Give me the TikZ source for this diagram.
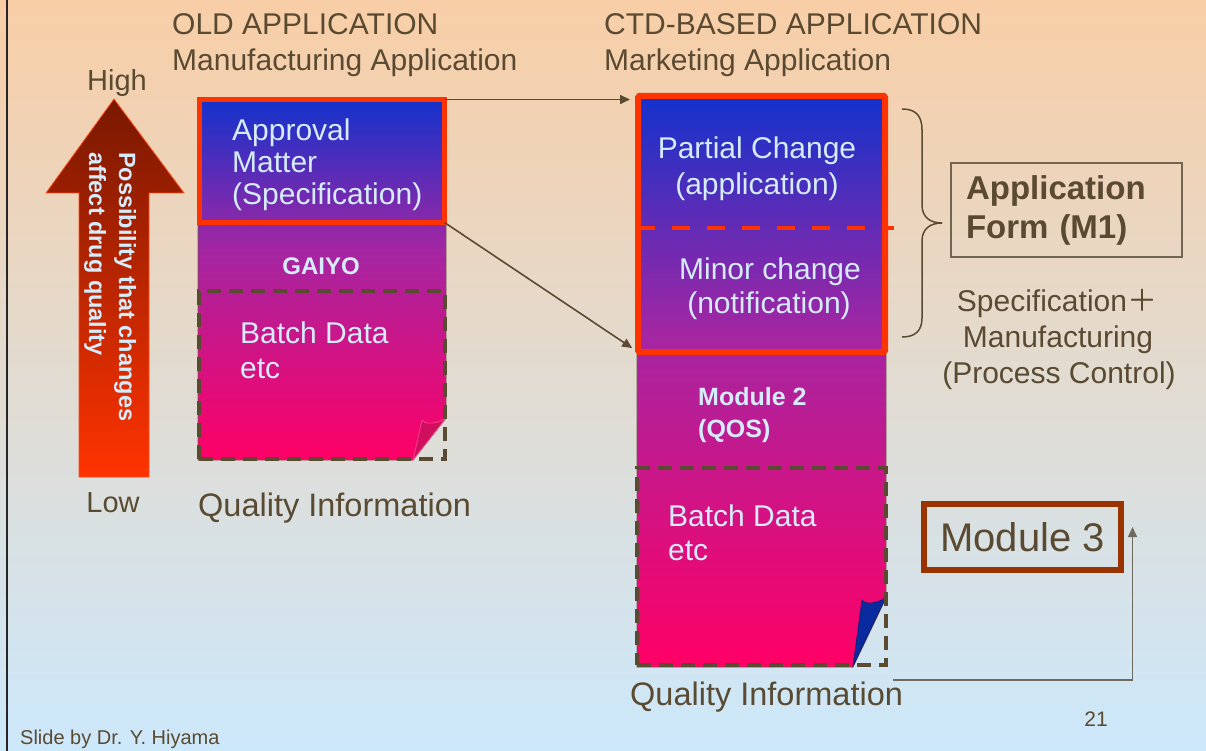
\documentclass[tikz,border=0pt]{standalone}
\usepackage{fontspec}
\setmainfont{Liberation Sans}
\newfontfamily\cjkfont{Noto Sans CJK JP}
\usetikzlibrary{arrows.meta}
\definecolor{bgtop}{HTML}{F8CEA6}
\definecolor{bgmid}{HTML}{E2DDD6}
\definecolor{bgbot}{HTML}{CCE8FB}
\definecolor{ink}{HTML}{5A4A32}
\definecolor{lite}{HTML}{D4ECFB}
\definecolor{arrtop}{HTML}{781800}
\definecolor{arrbot}{HTML}{FF3300}
\definecolor{arredge}{HTML}{FF4A1A}
\definecolor{pgtop}{HTML}{1232CC}
\definecolor{pgmid}{HTML}{A426A2}
\definecolor{pgbot}{HTML}{FF0066}
\definecolor{redc}{HTML}{FF3300}
\definecolor{curlp}{HTML}{D0105E}
\definecolor{curlb}{HTML}{0A2AA0}
\definecolor{mthree}{HTML}{993300}
\definecolor{connb}{HTML}{5A4A32}
\definecolor{conng}{HTML}{6E6A5E}
\pgfdeclareverticalshading{pagegrad}{100bp}{color(0bp)=(pgbot); color(25bp)=(pgbot); color(54bp)=(pgmid); color(75bp)=(pgtop); color(100bp)=(pgtop)}
\newcommand\myfs[1]{\fontsize{#1}{#1}\selectfont}
\begin{document}
\begin{tikzpicture}[x=1pt,y=-1pt,
  dark/.style={inner sep=0pt, text=ink},
  light/.style={inner sep=0pt, text=lite},
  pageshade/.style={shading=pagegrad, draw=ink!90, line width=0.8pt},
  redbox/.style={draw=redc, inner sep=0pt, outer sep=0pt, anchor=north west},
  databox/.style={draw=ink, line width=4pt, dash pattern=on 14pt off 8pt, inner sep=0pt, outer sep=0pt, anchor=north west},
  conn/.style={draw=connb, line width=1.6pt, -{Triangle[length=10pt,width=9pt]}},
  conn2/.style={draw=conng, line width=1.5pt, -{Triangle[length=10pt,width=9pt]}}]
\shade[top color=bgtop, middle color=bgmid, bottom color=bgbot] (0,0) rectangle (1206,751);
\useasboundingbox (0,0) rectangle (1206,751);
\draw[line width=2pt, black!85] (7,0) -- (7,751);

% big arrow
\shadedraw[top color=arrtop, bottom color=arrbot, draw=arredge, line width=0.8pt]
  (114,99) -- (184,193) -- (149,193) -- (149,477) -- (79,477) -- (79,193) -- (46,193) -- cycle;
\node[light, rotate=-90, anchor=base west, font=\bfseries\myfs{23.5}] (poss1) at (119,152) {Possibility that changes};
\node[light, rotate=-90, anchor=base west, font=\bfseries\myfs{23.5}] (poss2) at (89,152) {affect drug quality};
\node[dark, anchor=base, font=\myfs{29}] (high) at (117,91) {High};
\node[dark, anchor=base, font=\myfs{29}] (low) at (113,512) {Low};

% titles
\node[dark, anchor=base west, font=\myfs{30}] (old1) at (172,35) {OLD APPLICATION};
\node[dark, anchor=base west, font=\myfs{30}] (old2) at (172,71) {Manufacturing Application};
\node[dark, anchor=base west, font=\myfs{30}] (ctd1) at (604,35) {CTD-BASED APPLICATION};
\node[dark, anchor=base west, font=\myfs{30}] (ctd2) at (604,71) {Marketing Application};

% old page
\shadedraw[pageshade] (198,98) -- (446,98) -- (446,418) -- (413,460) -- (198,460) -- cycle;
\filldraw[fill=curlp, draw=pgbot!70!white, line width=0.6pt]
  (413,460) -- (422,420) .. controls (425,425) and (437,424) .. (446,418) -- cycle;
\node[redbox, line width=5pt, minimum width=245pt, minimum height=123pt] (spec) at (199.5,99.5) {};
\node[databox, minimum width=246pt, minimum height=168pt] (olddata) at (199,291) {};
\node[light, anchor=base west, font=\myfs{30}] (appr1) at (232,141) {Approval};
\node[light, anchor=base west, font=\myfs{30}] (appr2) at (232,173) {Matter};
\node[light, anchor=base west, font=\myfs{30}] (appr3) at (232,205) {(Specification)};
\node[light, anchor=base, font=\bfseries\myfs{24}] (gaiyo) at (321,274) {GAIYO};
\node[light, anchor=base west, font=\myfs{30}] (bd1) at (240,343) {Batch Data};
\node[light, anchor=base west, font=\myfs{30}] (bd2) at (240,378) {etc};
\node[dark, anchor=base west, font=\myfs{32.5}] (qil) at (198,516) {Quality Information};

% CTD page
\shadedraw[pageshade] (637,94) -- (886,94) -- (886,598) -- (853,667) -- (637,667) -- cycle;
\filldraw[fill=curlb, draw=curlb!70!black, line width=0.6pt]
  (853,666) -- (862,600) .. controls (865,605) and (877,604) .. (886,597) -- cycle;
\node[redbox, line width=6pt, rounded corners=1.5pt, minimum width=247pt, minimum height=256pt] (ctd) at (638,96) {};
\node[databox, minimum width=249pt, minimum height=197pt] (newdata) at (637,468) {};
\coordinate (dl) at (637,228);
\coordinate (dr) at (894,228);
\draw[draw=redc, line width=4pt, dash pattern=on 18pt off 17pt] (dl) -- (dr);
\node[light, anchor=base, font=\myfs{30}] (pc1) at (757,159) {Partial Change};
\node[light, anchor=base, font=\myfs{30}] (pc2) at (757,195) {(application)};
\node[light, anchor=base, font=\myfs{30}] (mc1) at (770,279) {Minor change};
\node[light, anchor=base, font=\myfs{30}] (mc2) at (769,313) {(notification)};
\node[light, anchor=base west, font=\bfseries\myfs{25}] (m2a) at (698,405) {Module 2};
\node[light, anchor=base west, font=\bfseries\myfs{25}] (m2b) at (698,437) {(QOS)};
\node[light, anchor=base west, font=\myfs{30}] (bd3) at (668,526) {Batch Data};
\node[light, anchor=base west, font=\myfs{30}] (bd4) at (668,560) {etc};
\node[dark, anchor=base west, font=\myfs{32.5}] (qir) at (630,705) {Quality Information};

% connectors between applications
\draw[conn, shorten >=8pt] (spec.north east) -- (spec.north east -| ctd.west);
\draw[conn, shorten >=7pt] (spec.south east) -- (ctd.south west);

% brace
\draw[draw=ink, line width=1.5pt] (902,109) .. controls (915,109) and (922,115) .. (922,130)
  -- (922,205) .. controls (922,217) and (930,223) .. (942,223)
  .. controls (930,223) and (922,229) .. (922,241)
  -- (922,318) .. controls (922,331) and (915,337) .. (902,337);

% application form
\node[draw=ink!85, line width=1.5pt, minimum width=231pt, minimum height=94pt, text width=201pt,
  align=left, inner sep=0pt, text=ink, font=\bfseries\fontsize{33}{39}\selectfont] (appform) at (1066.5,210)
  {Application\\Form (M1)};
\node[dark, anchor=base, font=\myfs{30}] (sp1) at (1057,311) {Specification{\cjkfont ＋}};
\node[dark, anchor=base, font=\myfs{30}] (sp2) at (1058,347) {Manufacturing};
\node[dark, anchor=base, font=\myfs{30}] (sp3) at (1059,383) {(Process Control)};

% module 3
\node[draw=mthree, line width=6pt, minimum width=197pt, minimum height=66pt, inner sep=0pt,
  text=ink, font=\myfs{40}] (mod3) at (1022.5,537) {Module 3};
\coordinate (m3start) at (893,680);
\draw[conn2] (m3start) -| ([xshift=8.5pt,yshift=10pt]mod3.east);

% footer
\node[dark, anchor=base west, font=\myfs{20}] (slide) at (20,744) {Slide by Dr. Y. Hiyama};
\node[dark, anchor=base, font=\myfs{21}] (pnum) at (1096,726) {21};
\end{tikzpicture}
\end{document}
